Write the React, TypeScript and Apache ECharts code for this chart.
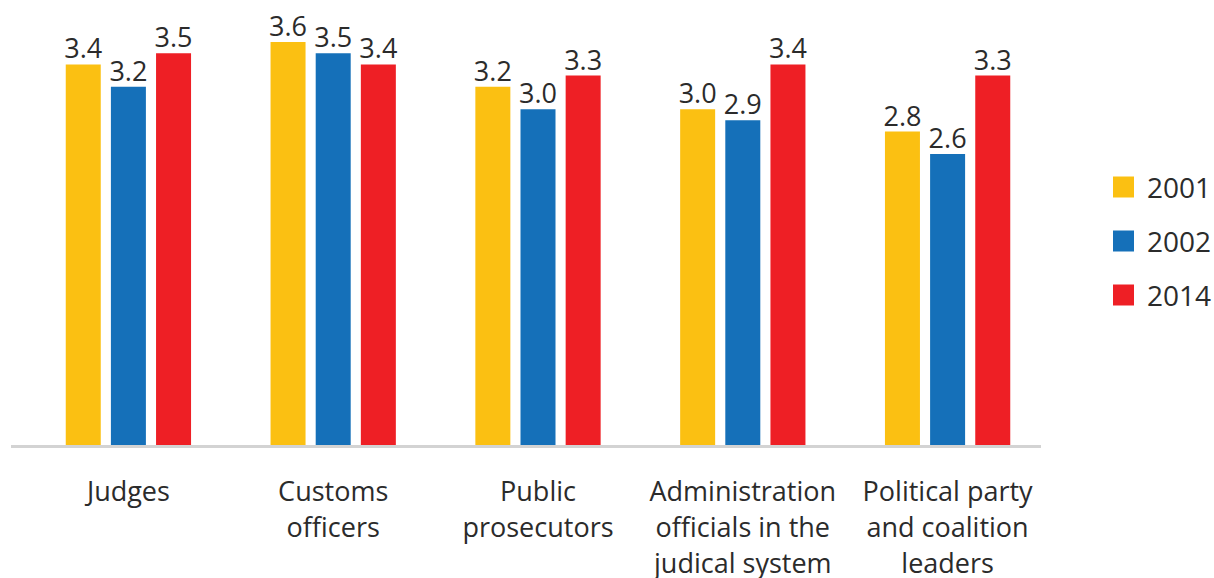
import React, { useEffect, useRef } from "react";
import * as echarts from "echarts";

const categories = [
  "Judges",
  "Customs\nofficers",
  "Public\nprosecutors",
  "Administration\nofficials in the\njudical system",
  "Political party\nand coalition\nleaders",
];
const seriesNames = ["2001", "2002", "2014"];
const values2001 = [3.4, 3.6, 3.2, 3.0, 2.8];
const values2002 = [3.2, 3.5, 3.0, 2.9, 2.6];
const values2014 = [3.5, 3.4, 3.3, 3.4, 3.3];
const colors = ["#FBC012", "#1570B9", "#EE1F25"];

const FONT = "'Open Sans', sans-serif";

export default function App() {
  const ref = useRef<HTMLDivElement>(null);
  useEffect(() => {
    if (!ref.current) return;
    const chart = echarts.init(ref.current, undefined, { renderer: "svg" });
    const data = [values2001, values2002, values2014];
    chart.setOption({
      animation: false,
      textStyle: { fontFamily: FONT },
      grid: {
        left: 26,
        right: 164,
        top: 42,
        bottom: 133,
        containLabel: false,
        outerBoundsMode: "none",
      },
      legend: {
        orient: "vertical",
        left: 1108,
        top: 168,
        icon: "rect",
        itemWidth: 21,
        itemHeight: 21,
        itemGap: 26,
        data: seriesNames,
        textStyle: {
          fontFamily: FONT,
          fontSize: 28,
          color: "#2b2b2b",
          padding: [0, 0, 0, 8],
        },
      },
      xAxis: {
        type: "category",
        data: categories,
        axisLine: { show: false },
        axisTick: { show: false },
        axisLabel: {
          margin: 27,
          fontFamily: FONT,
          fontSize: 27,
          lineHeight: 36,
          color: "#2b2b2b",
          interval: 0,
        },
      },
      yAxis: {
        type: "value",
        min: 0,
        max: 3.6,
        show: false,
        splitLine: { show: false },
      },
      graphic: [
        {
          type: "line",
          shape: { x1: 11, y1: 446.5, x2: 1041, y2: 446.5 },
          style: { stroke: "#d3d3d3", lineWidth: 3 },
          z: 10,
        },
      ],
      series: seriesNames.map((name, i) => ({
        name,
        type: "bar",
        data: data[i],
        barWidth: 35,
        barGap: "29%",
        itemStyle: { color: colors[i] },
        label: {
          show: true,
          position: "top",
          distance: 3,
          fontFamily: FONT,
          fontSize: 27,
          color: "#2b2b2b",
          formatter: (p: any) => Number(p.value).toFixed(1),
        },
      })),
    });
    return () => chart.dispose();
  }, []);
  return <div ref={ref} style={{ width: 1214, height: 578, position: "absolute", left: 0, top: 0 }} />;
}
